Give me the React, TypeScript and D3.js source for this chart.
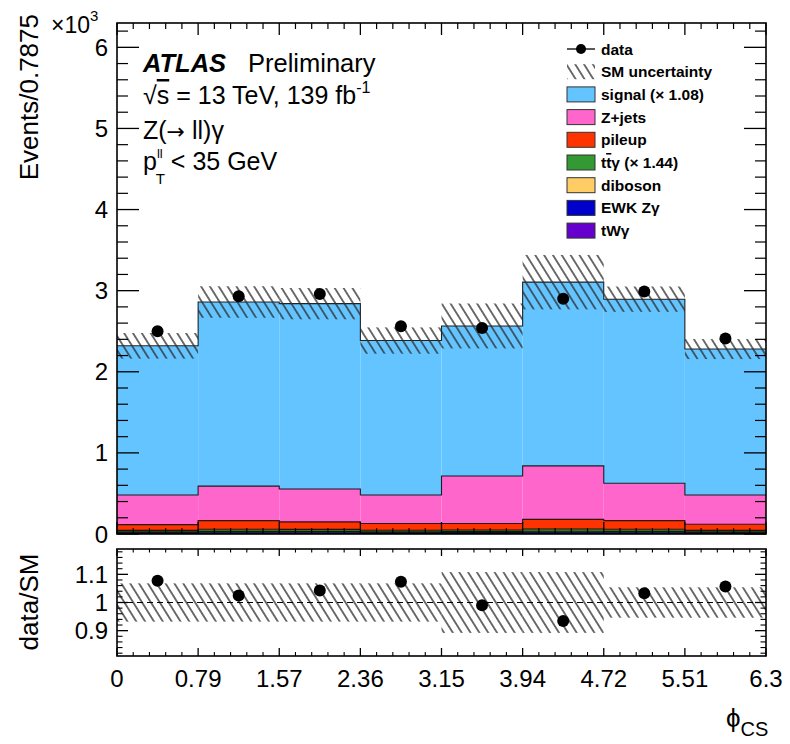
import React from 'react';
import * as d3 from 'd3';

// ---------- data (values in units of 10^3 events) ----------
const binEdges = [0, 0.7875, 1.575, 2.3625, 3.15, 3.9375, 4.725, 5.5125, 6.3];
const xTickLabels = ['0', '0.79', '1.57', '2.36', '3.15', '3.94', '4.72', '5.51', '6.3'];
const yTickValues = [0, 1, 2, 3, 4, 5, 6];
const ratioTickValues = [0.9, 1, 1.1];
const ratioTickLabels = ['0.9', '1', '1.1'];

const dataValues = [2.5, 2.93, 2.96, 2.56, 2.54, 2.9, 2.99, 2.41];
const signalValues = [1.84, 2.27, 2.285, 1.905, 1.85, 2.265, 2.27, 1.8];
const zjetsValues = [0.365, 0.425, 0.405, 0.35, 0.585, 0.66, 0.46, 0.36];
const pileupValues = [0.07, 0.107, 0.093, 0.083, 0.081, 0.118, 0.107, 0.075];
const ttgammaValues = [0.018, 0.026, 0.025, 0.02, 0.02, 0.028, 0.026, 0.018];
const dibosonValues = [0.008, 0.01, 0.01, 0.008, 0.009, 0.011, 0.01, 0.008];
const ewkValues = [0.016, 0.018, 0.018, 0.016, 0.017, 0.019, 0.018, 0.016];
const twgammaValues = [0.003, 0.004, 0.004, 0.003, 0.003, 0.004, 0.004, 0.003];
const relUncertainty = [0.068, 0.068, 0.068, 0.068, 0.108, 0.108, 0.054, 0.054];

const layerNames = ['tWγ', 'EWK Zγ', 'diboson', 'ttγ', 'pileup', 'Z+jets', 'signal'];
const layerColors = ['#6600cc', '#0000cc', '#ffcc66', '#339933', '#ff3300', '#ff66cc', '#64c4ff'];
const layerValues = [twgammaValues, ewkValues, dibosonValues, ttgammaValues, pileupValues, zjetsValues, signalValues];

const FONT = "'Liberation Sans', Arial, Helvetica, sans-serif";

export default function App() {
  const W = 790;
  const H = 744;
  const X0 = 117, X1 = 766;
  const MT = 23, MB = 534;
  const RT = 549, RB = 656;

  const x = d3.scaleLinear().domain([0, 6.3]).range([X0, X1]);
  const y = d3.scaleLinear().domain([0, 6.3]).range([MB, MT]);
  const yr = d3.scaleLinear().domain([0.81, 1.19]).range([RB, RT]);

  const nb = dataValues.length;
  let base = new Array(nb).fill(0);
  const stacked = layerValues.map((vals, k) => {
    const lo = base.slice();
    const hi = base.map((b, i) => b + vals[i]);
    base = hi;
    return { name: layerNames[k], color: layerColors[k], lo, hi };
  });
  const total = base;

  const stepLine = d3
    .line<[number, number]>()
    .x((d) => x(d[0]))
    .y((d) => y(d[1]))
    .curve(d3.curveStepAfter);

  const stepPts = (vals: number[]): [number, number][] => {
    const pts: [number, number][] = vals.map((v, i) => [binEdges[i], v]);
    pts.push([binEdges[nb], vals[nb - 1]]);
    return pts;
  };

  const xMinor: number[] = [];
  for (let i = 0; i < nb; i++) {
    for (let j = 1; j < 5; j++) xMinor.push(binEdges[i] + ((binEdges[i + 1] - binEdges[i]) * j) / 5);
  }
  const yMinor = d3.range(0, 63).map((i) => i * 0.2).filter((v) => v <= 6.3 && Math.abs(v - Math.round(v)) > 1e-6);
  const rMinor = d3.range(41, 60).map((i) => i * 0.02).filter((v) => v > 0.811 && v < 1.189 && Math.abs(v * 10 - Math.round(v * 10)) > 1e-6);

  const legendRows = [
    { label: 'data', type: 'data' },
    { label: 'SM uncertainty', type: 'hatch' },
    { label: 'signal (× 1.08)', color: '#64c4ff' },
    { label: 'Z+jets', color: '#ff66cc' },
    { label: 'pileup', color: '#ff3300' },
    { label: 'tty', color: '#339933', special: 'tt' },
    { label: 'diboson', color: '#ffcc66' },
    { label: 'EWK Zγ', color: '#0000cc' },
    { label: 'tWγ', color: '#6600cc' },
  ];

  const frameStroke = 1.6;

  return (
    <svg width={W} height={H} style={{ position: 'absolute', left: 0, top: 0, background: '#fff' }} fontFamily={FONT}>
      <defs>
        <pattern id="hatch" patternUnits="userSpaceOnUse" width="7.5" height="7.5" patternTransform="rotate(-32)">
          <line x1="3.75" y1="-1" x2="3.75" y2="8.5" stroke="#2a2a2a" strokeWidth="1.35" />
        </pattern>
        <clipPath id="mainClip">
          <rect x={X0} y={MT} width={X1 - X0} height={MB - MT} />
        </clipPath>
        <clipPath id="ratioClip">
          <rect x={X0} y={RT} width={X1 - X0} height={RB - RT} />
        </clipPath>
      </defs>
      <rect x={0} y={0} width={W} height={H} fill="#fff" />

      {/* ---------- main pad ---------- */}
      <g clipPath="url(#mainClip)">
        {stacked.map((L) =>
          L.hi.map((h, i) => (
            <rect
              key={L.name + i}
              x={x(binEdges[i])}
              width={x(binEdges[i + 1]) - x(binEdges[i])}
              y={y(h)}
              height={y(L.lo[i]) - y(h)}
              fill={L.color}
            />
          ))
        )}
        {stacked.map((L) => (
          <path key={'o' + L.name} d={stepLine(stepPts(L.hi)) || ''} fill="none" stroke="#000" strokeWidth={1.1} opacity={0.85} />
        ))}
        {total.map((t, i) => (
          <rect
            key={'u' + i}
            x={x(binEdges[i])}
            width={x(binEdges[i + 1]) - x(binEdges[i])}
            y={y(t * (1 + relUncertainty[i]))}
            height={y(t * (1 - relUncertainty[i])) - y(t * (1 + relUncertainty[i]))}
            fill="url(#hatch)"
          />
        ))}
        {dataValues.map((v, i) => (
          <circle key={'d' + i} cx={x((binEdges[i] + binEdges[i + 1]) / 2)} cy={y(v)} r={6} fill="#000" />
        ))}
      </g>

      {/* main axes ticks */}
      {yTickValues.map((v) => (
        <g key={'yt' + v}>
          <line x1={X0} x2={X0 + 22} y1={y(v)} y2={y(v)} stroke="#000" strokeWidth={1.3} />
          <line x1={X1} x2={X1 - 22} y1={y(v)} y2={y(v)} stroke="#000" strokeWidth={1.3} />
          <text x={X0 - 9} y={y(v) + 8.5} fontSize={24} textAnchor="end">
            {v}
          </text>
        </g>
      ))}
      {yMinor.map((v) => (
        <g key={'ym' + v}>
          <line x1={X0} x2={X0 + 11} y1={y(v)} y2={y(v)} stroke="#000" strokeWidth={1.2} />
          <line x1={X1} x2={X1 - 11} y1={y(v)} y2={y(v)} stroke="#000" strokeWidth={1.2} />
        </g>
      ))}
      {binEdges.map((v) => (
        <g key={'xt' + v}>
          <line x1={x(v)} x2={x(v)} y1={MT} y2={MT + 12} stroke="#000" strokeWidth={1.3} />
          <line x1={x(v)} x2={x(v)} y1={MB} y2={MB - 12} stroke="#000" strokeWidth={1.3} />
        </g>
      ))}
      {xMinor.map((v) => (
        <g key={'xm' + v}>
          <line x1={x(v)} x2={x(v)} y1={MT} y2={MT + 6} stroke="#000" strokeWidth={1.2} />
          <line x1={x(v)} x2={x(v)} y1={MB} y2={MB - 6} stroke="#000" strokeWidth={1.2} />
        </g>
      ))}
      <rect x={X0} y={MT} width={X1 - X0} height={MB - MT} fill="none" stroke="#000" strokeWidth={frameStroke} />

      {/* y title main */}
      <text transform={`translate(38,14) rotate(-90)`} fontSize={26} textAnchor="end">
        Events/0.7875
      </text>
      <text x={51} y={33} fontSize={23}>
        ×10
        <tspan fontSize={15} dy={-12}>
          3
        </tspan>
      </text>

      {/* ATLAS label */}
      <text x={143} y={72} fontSize={25.5} fontWeight="bold" fontStyle="italic">
        ATLAS
      </text>
      <text x={248} y={72} fontSize={25.5}>
        Preliminary
      </text>
      <text x={143} y={104} fontSize={25}>
        √<tspan textDecoration="overline">s</tspan> = 13 TeV, 139 fb
        <tspan fontSize={16} dy={-11}>
          -1
        </tspan>
      </text>
      <text x={143} y={139} fontSize={25}>
        Z(
        <tspan fontFamily="'DejaVu Sans', sans-serif" fontSize={22}>
          →
        </tspan>{' '}
        ll)γ
      </text>
      <text x={143} y={170} fontSize={25}>
        p
        <tspan fontSize={13} dy={-12}>
          ll
        </tspan>
        <tspan fontSize={15} dx={-7} dy={26}>
          T
        </tspan>
        <tspan fontSize={25} dx={6} dy={-14}>
          {'< 35 GeV'}
        </tspan>
      </text>

      {/* legend */}
      {legendRows.map((r, i) => {
        const cy = 49 + i * 22.7;
        return (
          <g key={'lg' + i}>
            {r.type === 'data' ? (
              <g>
                <line x1={567} x2={595} y1={cy} y2={cy} stroke="#000" strokeWidth={1.3} />
                <circle cx={581} cy={cy} r={5} fill="#000" />
              </g>
            ) : r.type === 'hatch' ? (
              <rect x={567} y={cy - 7.5} width={28} height={15} fill="url(#hatch)" />
            ) : (
              <rect x={567} y={cy - 7.5} width={28} height={15} fill={r.color} stroke="#333" strokeWidth={1} />
            )}
            <text x={601} y={cy + 5.5} fontSize={15.5} fontWeight="bold">
              {r.special === 'tt' ? (
                <>
                  t<tspan textDecoration="overline">t</tspan>γ (× 1.44)
                </>
              ) : (
                r.label
              )}
            </text>
          </g>
        );
      })}

      {/* ---------- ratio pad ---------- */}
      <g clipPath="url(#ratioClip)">
        {total.map((t, i) => (
          <rect
            key={'ru' + i}
            x={x(binEdges[i])}
            width={x(binEdges[i + 1]) - x(binEdges[i])}
            y={yr(1 + relUncertainty[i])}
            height={yr(1 - relUncertainty[i]) - yr(1 + relUncertainty[i])}
            fill="url(#hatch)"
          />
        ))}
        <line x1={X0} x2={X1} y1={yr(1)} y2={yr(1)} stroke="#000" strokeWidth={1.1} strokeDasharray="6 4" />
        {dataValues.map((v, i) => (
          <circle key={'rd' + i} cx={x((binEdges[i] + binEdges[i + 1]) / 2)} cy={yr(v / total[i])} r={6} fill="#000" />
        ))}
      </g>
      {ratioTickValues.map((v, k) => (
        <g key={'rt' + v}>
          <line x1={X0} x2={X0 + 11} y1={yr(v)} y2={yr(v)} stroke="#000" strokeWidth={1.3} />
          <line x1={X1} x2={X1 - 11} y1={yr(v)} y2={yr(v)} stroke="#000" strokeWidth={1.3} />
          <text x={X0 - 9} y={yr(v) + 8.5} fontSize={24} textAnchor="end">
            {ratioTickLabels[k]}
          </text>
        </g>
      ))}
      {rMinor.map((v) => (
        <g key={'rm' + v}>
          <line x1={X0} x2={X0 + 5.5} y1={yr(v)} y2={yr(v)} stroke="#000" strokeWidth={1.1} />
          <line x1={X1} x2={X1 - 5.5} y1={yr(v)} y2={yr(v)} stroke="#000" strokeWidth={1.1} />
        </g>
      ))}
      {binEdges.map((v, k) => (
        <g key={'rx' + v}>
          <line x1={x(v)} x2={x(v)} y1={RT} y2={RT + 7} stroke="#000" strokeWidth={1.3} />
          <line x1={x(v)} x2={x(v)} y1={RB} y2={RB - 8} stroke="#000" strokeWidth={1.3} />
          <text x={x(v)} y={RB + 31} fontSize={24} textAnchor="middle">
            {xTickLabels[k]}
          </text>
        </g>
      ))}
      {xMinor.map((v) => (
        <g key={'rxm' + v}>
          <line x1={x(v)} x2={x(v)} y1={RT} y2={RT + 3.5} stroke="#000" strokeWidth={1.1} />
          <line x1={x(v)} x2={x(v)} y1={RB} y2={RB - 4} stroke="#000" strokeWidth={1.1} />
        </g>
      ))}
      <rect x={X0} y={RT} width={X1 - X0} height={RB - RT} fill="none" stroke="#000" strokeWidth={frameStroke} />

      <text transform={`translate(38,602) rotate(-90)`} fontSize={26} textAnchor="middle">
        data/SM
      </text>

      <text x={726} y={727} fontSize={26}>
        ϕ
        <tspan fontSize={20} dy={9}>
          CS
        </tspan>
      </text>
    </svg>
  );
}
